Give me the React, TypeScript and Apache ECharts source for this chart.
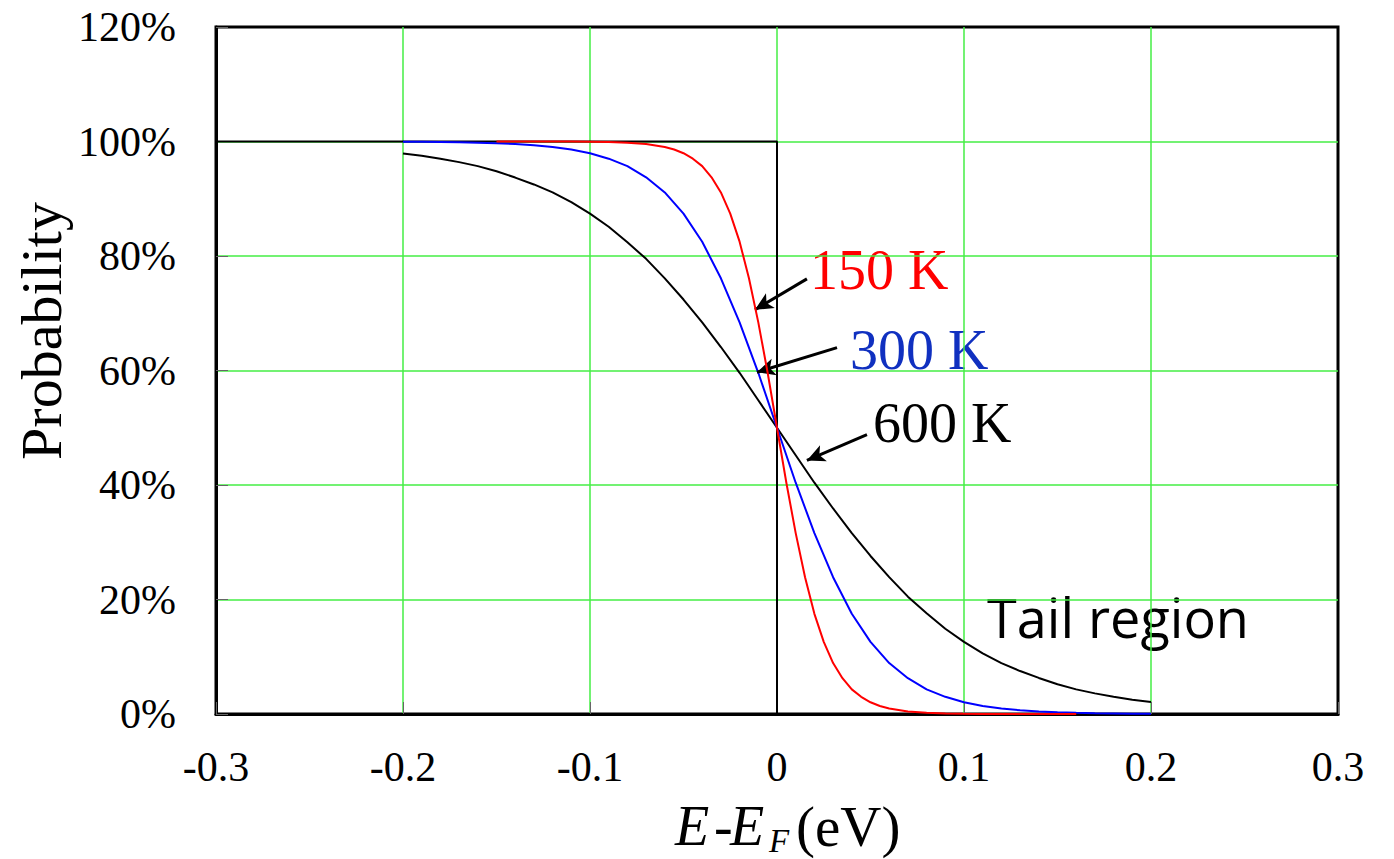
import React, { useEffect, useRef } from "react";
import * as echarts from "echarts";

// Energy E - E_F (eV)
const energies = [
  -0.2, -0.19, -0.18, -0.17, -0.16, -0.15, -0.14, -0.13, -0.12, -0.11,
  -0.1, -0.09, -0.08, -0.07, -0.06, -0.05, -0.04, -0.03, -0.02, -0.01,
  0,
  0.01, 0.02, 0.03, 0.04, 0.05, 0.06, 0.07, 0.08, 0.09, 0.1,
  0.11, 0.12, 0.13, 0.14, 0.15, 0.16, 0.17, 0.18, 0.19, 0.2,
];

// Probability (%)
const p600 = [
  97.9, 97.5, 97.0, 96.4, 95.7, 94.8, 93.7, 92.5, 91.1, 89.4,
  87.4, 85.1, 82.4, 79.5, 76.1, 72.4, 68.4, 64.1, 59.6, 54.8,
  50.0,
  45.2, 40.4, 35.9, 31.6, 27.6, 23.9, 20.5, 17.6, 14.9, 12.6,
  10.6, 8.9, 7.5, 6.3, 5.2, 4.3, 3.6, 3.0, 2.5, 2.1,
];
const p300 = [
  99.96, 99.94, 99.9, 99.86, 99.8, 99.7, 99.56, 99.35, 99.05, 98.6,
  97.95, 97.0, 95.7, 93.75, 91.1, 87.4, 82.5, 76.1, 68.4, 59.6,
  50.0,
  40.4, 31.6, 23.9, 17.5, 12.6, 8.9, 6.25, 4.3, 3.0, 2.05,
  1.4, 0.95, 0.65, 0.44, 0.3, 0.2, 0.14, 0.1, 0.06, 0.04,
];

// 150 K curve is drawn on a finer energy grid near E_F
const energies150 = [
  -0.15, -0.14, -0.13, -0.12, -0.11, -0.1, -0.09, -0.08, -0.07,
  -0.06, -0.055, -0.05, -0.045, -0.04, -0.035, -0.03, -0.025, -0.02, -0.015, -0.01, -0.005,
  0,
  0.005, 0.01, 0.015, 0.02, 0.025, 0.03, 0.035, 0.04, 0.045, 0.05, 0.055, 0.06,
  0.07, 0.08, 0.09, 0.1, 0.11, 0.12, 0.13, 0.14, 0.15, 0.16,
];
const p150 = [
  100.0, 100.0, 100.0, 100.0, 99.98, 99.96, 99.9, 99.8, 99.56,
  99.05, 98.6, 97.95, 97.0, 95.7, 93.75, 91.1, 87.4, 82.5, 76.1, 68.4, 59.6,
  50.0,
  40.4, 31.6, 23.9, 17.5, 12.6, 8.9, 6.25, 4.3, 3.0, 2.05, 1.4, 0.95,
  0.44, 0.2, 0.1, 0.04, 0.02, 0.01, 0.0, 0.0, 0.0, 0.0,
];

// Step function at T = 0 K
const stepE = [-0.3, 0, 0];
const stepP = [100, 100, 0];

// Annotation arrows (data coordinates: [E, %])
const arrowFrom = [
  [0.016, 76.0],
  [0.0321, 64.0],
  [0.0481, 48.8],
];
const arrowTo = [
  [-0.0118, 70.6],
  [-0.0107, 59.7],
  [0.016, 44.3],
];

const tempLabels = ["150 K", "300 K", "600 K"];
const tempColors = ["#ff0000", "#1030c0", "#000000"];

const SERIF = "'Liberation Serif', 'Times New Roman', serif";

function pairs(xs: number[], ys: number[]) {
  return xs.map((e, i) => [e, ys[i]]);
}

export default function App() {
  const ref = useRef<HTMLDivElement>(null);

  useEffect(() => {
    document.body.style.margin = "0";
    if (!ref.current) return;
    const chart = echarts.init(ref.current, undefined, { renderer: "svg" });

    const fmtX = (v: number) => {
      const r = Math.round(v * 10) / 10;
      return r === 0 ? "0" : r.toFixed(1);
    };

    const gridLine = {
      show: true,
      showMinLine: false,
      showMaxLine: false,
      lineStyle: { color: "#44ee44", width: 1.5 },
    };

    const option: any = {
      animation: false,
      backgroundColor: "#ffffff",
      grid: {
        left: 216,
        right: 56,
        top: 27,
        bottom: 145,
        show: true,
        borderColor: "#000",
        borderWidth: 3,
        backgroundColor: "transparent",
      },
      xAxis: {
        type: "value",
        min: -0.3,
        max: 0.3,
        interval: 0.1,
        axisLine: { show: true, onZero: false, lineStyle: { color: "#000", width: 3 } },
        axisTick: { show: true, inside: true, length: 12, lineStyle: { color: "#666", width: 1 } },
        axisLabel: {
          fontFamily: SERIF,
          fontSize: 42,
          color: "#000",
          margin: 32,
          formatter: fmtX,
        },
        splitLine: gridLine,
      },
      yAxis: {
        type: "value",
        min: 0,
        max: 120,
        interval: 20,
        axisLine: { show: true, onZero: false, lineStyle: { color: "#000", width: 3 } },
        axisTick: { show: true, inside: true, length: 12, lineStyle: { color: "#666", width: 1 } },
        axisLabel: {
          fontFamily: SERIF,
          fontSize: 42,
          color: "#000",
          margin: 40,
          formatter: "{value}%",
        },
        splitLine: gridLine,
      },
      series: [
        {
          name: "0 K",
          type: "line",
          data: pairs(stepE, stepP),
          showSymbol: false,
          lineStyle: { color: "#000", width: 2 },
          z: 2,
          markLine: {
            silent: true,
            symbol: ["none", "arrow"],
            symbolSize: [13, 18],
            label: { show: false },
            lineStyle: { color: "#000", width: 3, type: "solid" },
            data: arrowFrom.map((f, i) => [
              { coord: f },
              { coord: arrowTo[i] },
            ]),
          },
        },
        {
          name: "600 K",
          type: "line",
          data: pairs(energies, p600),
          showSymbol: false,
          lineStyle: { color: "#000", width: 2 },
          z: 3,
        },
        {
          name: "300 K",
          type: "line",
          data: pairs(energies, p300),
          showSymbol: false,
          lineStyle: { color: "#0000ff", width: 2 },
          z: 4,
        },
        {
          name: "150 K",
          type: "line",
          data: pairs(energies150, p150),
          showSymbol: false,
          lineStyle: { color: "#ff0000", width: 2 },
          z: 5,
        },
      ],
      graphic: [
        {
          type: "text",
          left: 810,
          top: 242,
          style: { text: tempLabels[0], font: `56px ${SERIF}`, fill: tempColors[0] },
        },
        {
          type: "text",
          left: 850,
          top: 322,
          style: { text: tempLabels[1], font: `56px ${SERIF}`, fill: tempColors[1] },
        },
        {
          type: "text",
          left: 873,
          top: 395,
          style: { text: tempLabels[2], font: `56px ${SERIF}`, fill: tempColors[2] },
        },
        {
          type: "text",
          left: 987,
          top: 590,
          style: { text: "Tail region", font: `54px 'Open Sans', 'Noto Sans', sans-serif`, fill: "#000" },
        },
        {
          type: "text",
          x: 41,
          y: 331,
          rotation: Math.PI / 2,
          style: {
            text: "Probability",
            font: `58px ${SERIF}`,
            fill: "#000",
            align: "center",
            verticalAlign: "middle",
          },
        },
        {
          type: "group",
          children: [
            { type: "text", x: 675, y: 826, style: { text: "E", font: `italic 56px ${SERIF}`, fill: "#000", align: "left", verticalAlign: "middle" } },
            { type: "text", x: 714, y: 826, style: { text: "-", font: `56px ${SERIF}`, fill: "#000", align: "left", verticalAlign: "middle" } },
            { type: "text", x: 730, y: 826, style: { text: "E", font: `italic 56px ${SERIF}`, fill: "#000", align: "left", verticalAlign: "middle" } },
            { type: "text", x: 769, y: 841, style: { text: "F", font: `italic 33px ${SERIF}`, fill: "#000", align: "left", verticalAlign: "middle" } },
            { type: "text", x: 796, y: 826, style: { text: "(eV)", font: `57px ${SERIF}`, fill: "#000", align: "left", verticalAlign: "middle" } },
          ],
        },
      ],
    };

    chart.setOption(option);
    return () => chart.dispose();
  }, []);

  return <div ref={ref} style={{ width: 1394, height: 859 }} />;
}
